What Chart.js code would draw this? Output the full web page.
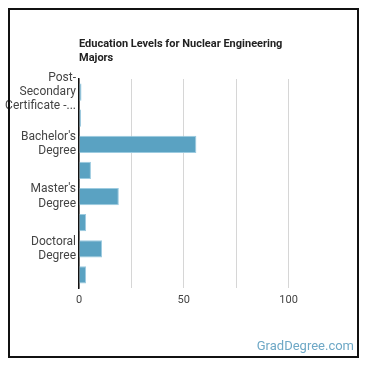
<!DOCTYPE html>
<html>
<head>
<meta charset="utf-8">
<script src="https://cdn.jsdelivr.net/npm/chart.js@4"></script>
<style>
  html, body { margin: 0; padding: 0; background: #fff; }
  #wrap { position: relative; width: 370px; height: 370px; }
  #frame { position: absolute; left: 8px; top: 8px; width: 351px; height: 350px; border: 2px solid #111; box-sizing: border-box; pointer-events: none; }
  canvas { position: absolute; left: 0; top: 0; }
</style>
</head>
<body>
<div id="wrap">
  <canvas id="eduChart" width="370" height="370"></canvas>
  <div id="frame"></div>
</div>
<script>
const titleLines = ['Education Levels for Nuclear Engineering', 'Majors'];
const categories = [
    ['Post-', 'Secondary', 'Certificate -...'], '',
    ["Bachelor's", 'Degree'], '',
    ["Master's", 'Degree'], '',
    ['Doctoral', 'Degree'], ''
];
const values = [1.2, 1, 56, 5.7, 19, 3.4, 11, 3.4];
const tickValues = [0, 25, 50, 75, 100, 125];
const shownTicks = [0, 50, 100];

// title + watermark drawn by hand so the title lines up with the plot's left edge
const extrasPlugin = {
    id: 'extras',
    afterDraw(chart) {
        const c = chart.ctx;
        const area = chart.chartArea;
        c.save();
        c.fillStyle = '#222';
        c.font = 'bold 11px Roboto';
        c.textBaseline = 'middle';
        c.textAlign = 'left';
        c.fillText(titleLines[0], area.left, 44);
        c.fillText(titleLines[1], area.left, 58);
        c.fillStyle = '#6ea8c6';
        c.font = '13px Roboto';
        c.textAlign = 'right';
        c.fillText('GradDegree.com', 354, 347);
        c.restore();
    }
};

const ctx = document.getElementById('eduChart').getContext('2d');

let eduChart = new Chart(ctx, {
    type: 'bar',
    data: {
        labels: categories,
        datasets: [{
            data: values,
            backgroundColor: '#5aa2c2',
            borderColor: '#9ccbe0',
            borderWidth: 1,
            barPercentage: 0.66,
            categoryPercentage: 1
        }]
    },
    options: {
        indexAxis: 'y',
        responsive: false,
        animation: false,
        layout: { padding: { top: 79, right: 29, bottom: 60, left: 0 } },
        plugins: {
            legend: { display: false },
            tooltip: { enabled: false }
        },
        scales: {
            x: {
                min: 0,
                max: 125,
                afterBuildTicks(scale) {
                    scale.ticks = tickValues.map(v => ({ value: v }));
                },
                afterFit(scale) { scale.height = 22; },
                ticks: {
                    color: '#444',
                    font: { family: 'Roboto', size: 11 },
                    padding: 6,
                    callback: v => shownTicks.includes(v) ? v : ''
                },
                grid: {
                    color: c => (c.tick && c.tick.value === 125) ? 'rgba(0,0,0,0)' : '#d6d6d6',
                    drawTicks: false
                },
                border: { display: false }
            },
            y: {
                afterFit(scale) { scale.width = 79; },
                ticks: {
                    color: '#444',
                    font: { family: 'Roboto', size: 12, lineHeight: 1.18 },
                    padding: 3,
                    autoSkip: false
                },
                grid: { display: false, drawTicks: false },
                border: { display: true, color: '#111', width: 1.5 }
            }
        }
    },
    plugins: [extrasPlugin]
});
</script>
</body>
</html>
